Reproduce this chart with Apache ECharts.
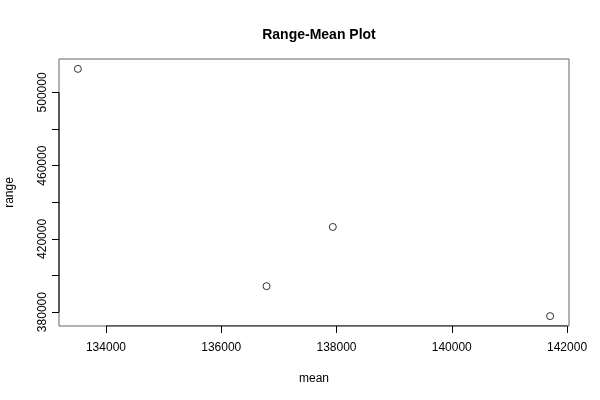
<!DOCTYPE html>
<html>
<head>
<meta charset="utf-8">
<script src="https://cdn.jsdelivr.net/npm/echarts@6/dist/echarts.min.js"></script>
<style>html,body{margin:0;padding:0;background:#fff;}#c{width:600px;height:400px;}</style>
</head>
<body>
<div id="c"></div>
<script>
var meanValues = [133513, 136786, 137936, 141706];
var rangeValues = [512870, 394180, 426520, 377820];
var xTicks = [134000, 136000, 138000, 140000, 142000];
var yTicks = [380000, 400000, 420000, 440000, 460000, 480000, 500000];
var yLabels = [380000, 420000, 460000, 500000];

var chart = echarts.init(document.getElementById('c'), null, {renderer: 'canvas'});
var font = 'Liberation Sans, Arial, Helvetica, sans-serif';
var pts = meanValues.map(function (m, i) { return [m, rangeValues[i]]; });
chart.setOption({
  animation: false,
  backgroundColor: '#ffffff',
  title: {
    text: 'Range-Mean Plot',
    left: 314, top: 23, textAlign: 'center',
    textStyle: {fontFamily: font, fontSize: 14, fontWeight: 'bold', color: '#000'}
  },
  grid: {left: 59, right: 31, top: 59, bottom: 74, containLabel: false, outerBoundsMode: 'none', show: true, borderColor: '#666', borderWidth: 1, backgroundColor: 'transparent'},
  xAxis: {
    type: 'value', min: 133185, max: 142034,
    name: 'mean', nameLocation: 'middle', nameGap: 47,
    nameTextStyle: {fontFamily: font, fontSize: 12, color: '#000'},
    axisLine: {show: false},
    axisTick: {show: true, length: 7, customValues: xTicks, lineStyle: {color: '#000'}},
    axisLabel: {customValues: xTicks, margin: 16, fontFamily: font, fontSize: 12, color: '#000', formatter: function (v) { return String(v); }},
    splitLine: {show: false}
  },
  yAxis: {
    type: 'value', min: 372418, max: 518272,
    name: 'range', nameLocation: 'middle', nameGap: 43, nameRotate: 90,
    nameTextStyle: {fontFamily: font, fontSize: 12, color: '#000'},
    axisLine: {show: false},
    axisTick: {show: true, length: 7, customValues: yTicks, lineStyle: {color: '#000'}},
    axisLabel: {customValues: yLabels, rotate: 90, margin: 10, fontFamily: font, fontSize: 12, color: '#000', formatter: function (v) { return String(v); }},
    splitLine: {show: false}
  },
  series: [{
    type: 'scatter',
    data: pts,
    symbol: 'circle',
    symbolSize: 7,
    itemStyle: {color: 'rgba(0,0,0,0)', borderColor: '#000', borderWidth: 1},
    emphasis: {disabled: true}
  }, {
    type: 'line',
    data: [[xTicks[0], 372418], [xTicks[xTicks.length - 1], 372418]],
    symbol: 'none', silent: true,
    lineStyle: {color: '#000', width: 1}
  }, {
    type: 'line',
    data: [[133185, yTicks[0]], [133185, yTicks[yTicks.length - 1]]],
    symbol: 'none', silent: true,
    lineStyle: {color: '#000', width: 1}
  }]
});
</script>
</body>
</html>
